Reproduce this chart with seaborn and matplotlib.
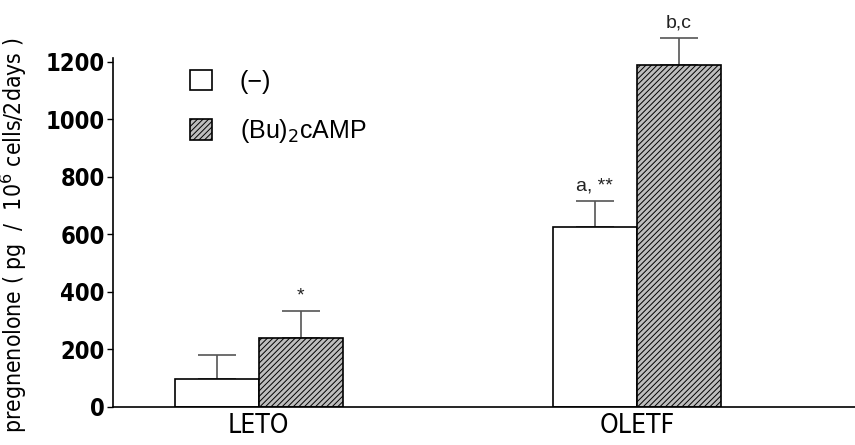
import pandas as pd
import matplotlib
matplotlib.use("Agg")
import matplotlib.pyplot as plt
import seaborn as sns

# ---------------------------------------------------------
# Data
# ---------------------------------------------------------
groups = ['LETO', 'OLETF']
treatments = ['(\u2212)', '(Bu)$_2$cAMP']
control_mean = [97, 626]
control_err = [84, 91]
bucamp_mean = [240, 1188]
bucamp_err = [94, 95]
annotations = [['', 'a, **'], ['*', 'b,c']]   # per treatment, per group
yticks = [0, 200, 400, 600, 800, 1000, 1200]

df = pd.DataFrame({
    'Group': groups * 2,
    'Treatment': [treatments[0]] * 2 + [treatments[1]] * 2,
    'Value': control_mean + bucamp_mean,
})
errs = [control_err, bucamp_err]

# ---------------------------------------------------------
# Plot
# ---------------------------------------------------------
sns.set_style("white")
plt.rcParams['hatch.linewidth'] = 0.7
plt.rcParams['text.color'] = 'black'

fig = plt.figure(figsize=(8.55, 4.45), dpi=100)
ax = fig.add_axes([0.132, 0.0854, 0.868, 0.785])

sns.barplot(
    data=df,
    x='Group',
    y='Value',
    hue='Treatment',
    order=groups,
    hue_order=treatments,
    palette=['white', 'white'],
    edgecolor='black',
    linewidth=1.2,
    width=0.445,
    legend=False,
    ax=ax,
)

bar_sets = list(ax.containers)
for i, cont in enumerate(bar_sets):
    for j, bar in enumerate(cont):
        if i == 1:
            bar.set_hatch('//////')
            bar.set_facecolor('#bdbdbd')
        cx = bar.get_x() + bar.get_width() / 2
        top = bar.get_height()
        eb = ax.errorbar(cx, top, yerr=[[0], [errs[i][j]]], fmt='none',
                         ecolor='#555555', elinewidth=1.2, capsize=14,
                         capthick=1.2, zorder=0)
        for art in eb.lines[1] + eb.lines[2]:
            art.set_clip_on(False)
        if annotations[i][j]:
            ax.text(cx, top + errs[i][j] + 22, annotations[i][j], ha='center',
                    va='bottom', fontsize=14, family='Liberation Sans',
                    color='#222222', clip_on=False)

ax.set_xlim(-0.386, 1.577)
ax.set_ylim(0, 1215)
ax.set_yticks(yticks)
ax.set_yticklabels([str(t) for t in yticks], fontsize=17, fontweight='bold',
                   family='DejaVu Sans', fontstretch='condensed', color='black')
ax.set_xticks([0, 1])
ax.set_xticklabels(groups, fontsize=19, family='DejaVu Sans',
                   fontstretch='condensed', color='black')
ax.tick_params(axis='x', length=0, pad=4)
ax.tick_params(axis='y', length=4, width=1, direction='out', left=True, pad=2,
               color='black')
ax.set_xlabel('')
ax.set_ylabel('pregnenolone ( pg  /  10$^6$ cells/2days )', fontsize=16.5,
              family='DejaVu Sans', fontstretch='condensed', color='black')
ax.yaxis.set_label_coords(-0.113, 0.49)

for side in ['top', 'right']:
    ax.spines[side].set_visible(False)
for side in ['left', 'bottom']:
    ax.spines[side].set_color('black')
    ax.spines[side].set_linewidth(1.2)

ax.legend([c[0] for c in bar_sets], treatments, loc='upper left',
          bbox_to_anchor=(0.073, 1.03), frameon=False, handlelength=0.9,
          handleheight=0.9, handletextpad=1.1, labelspacing=0.95,
          prop={'family': 'Liberation Sans', 'size': 18})

plt.savefig('out.png', dpi=100)
plt.close()
